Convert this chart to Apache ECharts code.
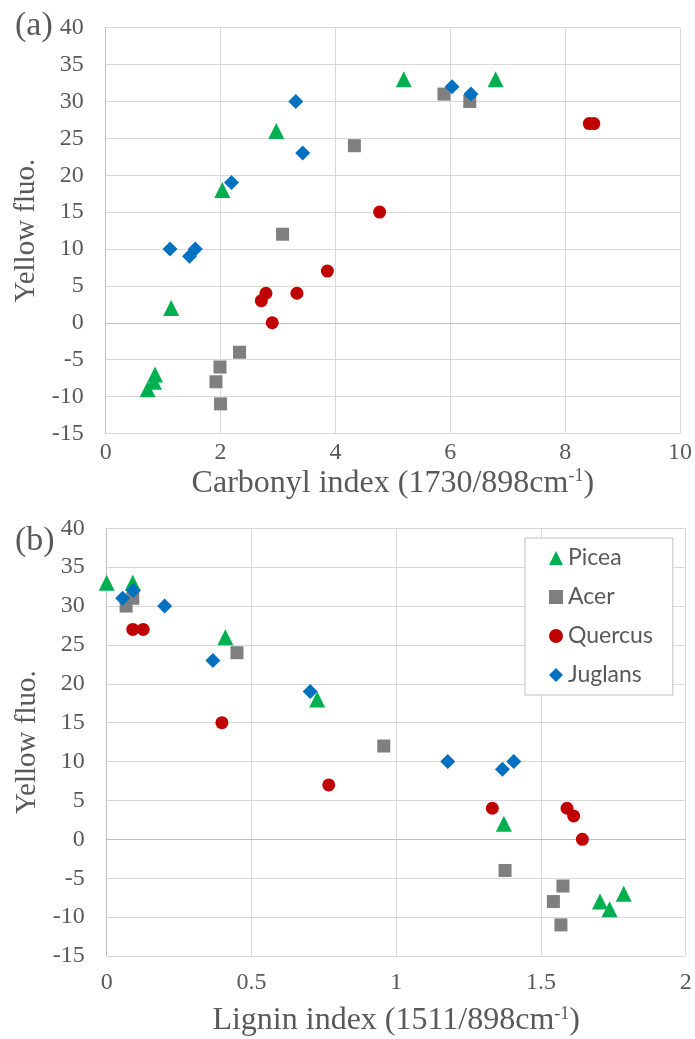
<!DOCTYPE html>
<html>
<head>
<meta charset="utf-8">
<script src="https://cdn.jsdelivr.net/npm/echarts@6/dist/echarts.min.js"></script>
<style>
  html, body { margin: 0; padding: 0; background: #fff; }
  #main { width: 695px; height: 1039px; }
</style>
</head>
<body>
<div id="main"></div>
<script>
// (a) carbonyl index vs yellow fluo.
const piceaCarbonyl = [[0.73, -9], [0.84, -8], [0.86, -7], [1.14, 2], [2.03, 18], [2.97, 26], [5.19, 33], [6.79, 33]];
const acerCarbonyl = [[1.92, -8], [1.99, -6], [2.0, -11], [2.33, -4], [3.08, 12], [4.33, 24], [5.89, 31], [6.34, 30]];
const quercusCarbonyl = [[2.71, 3], [2.79, 4], [2.9, 0], [3.33, 4], [3.86, 7], [4.77, 15], [8.42, 27], [8.5, 27]];
const juglansCarbonyl = [[1.12, 10], [1.46, 9], [1.56, 10], [2.19, 19], [3.31, 30], [3.43, 23], [6.03, 32], [6.36, 31]];

// (b) lignin index vs yellow fluo.
const piceaLignin = [[0, 33], [0.09, 33], [0.41, 26], [0.727, 18], [1.372, 2], [1.704, -8], [1.737, -9], [1.786, -7]];
const acerLignin = [[0.067, 30], [0.09, 31], [0.45, 24], [0.957, 12], [1.376, -4], [1.543, -8], [1.569, -11], [1.576, -6]];
const quercusLignin = [[0.09, 27], [0.126, 27], [0.398, 15], [0.767, 7], [1.332, 4], [1.59, 4], [1.613, 3], [1.643, 0]];
const juglansLignin = [[0.055, 31], [0.092, 32], [0.2, 30], [0.367, 23], [0.703, 19], [1.178, 10], [1.367, 9], [1.406, 10]];

const species = ['Picea', 'Acer', 'Quercus', 'Juglans'];
const carbonylTicks = { min: 0, max: 10, interval: 2 };
const ligninTicks = { min: 0, max: 2, interval: 0.5 };
const fluoTicks = { min: -15, max: 40, interval: 5 };

const serif = '"Liberation Serif", "Times New Roman", serif';
const textGrey = '#595959';

const marks = {
    Picea: { symbol: 'triangle', size: 16, color: '#00B050' },
    Acer: { symbol: 'rect', size: 13, color: '#7F7F7F' },
    Quercus: { symbol: 'circle', size: 13, color: '#C00000' },
    Juglans: { symbol: 'diamond', size: 15, color: '#0070C0' }
};

function xAxisOf(gridIndex, name, ticks, labelMargin, nameGap) {
    return {
        type: 'value',
        gridIndex: gridIndex,
        min: ticks.min,
        max: ticks.max,
        interval: ticks.interval,
        name: name,
        nameLocation: 'middle',
        nameGap: nameGap,
        nameTextStyle: {
            fontFamily: serif,
            fontSize: 32,
            color: textGrey,
            rich: {
                sup: { fontFamily: serif, fontSize: 18, color: textGrey, verticalAlign: 'top', lineHeight: 16 }
            }
        },
        axisLine: { show: true, lineStyle: { color: '#bfbfbf', width: 1 } },
        axisTick: { show: false },
        axisLabel: { fontFamily: serif, fontSize: 24, color: textGrey, margin: labelMargin },
        splitLine: { show: true, lineStyle: { color: '#d9d9d9', width: 1 } }
    };
}

function yAxisOf(gridIndex) {
    return {
        type: 'value',
        gridIndex: gridIndex,
        min: fluoTicks.min,
        max: fluoTicks.max,
        interval: fluoTicks.interval,
        name: 'Yellow fluo.',
        nameLocation: 'middle',
        nameRotate: 90,
        nameGap: 62,
        nameTextStyle: { fontFamily: serif, fontSize: 29, color: textGrey },
        axisLine: { show: true, lineStyle: { color: '#bfbfbf', width: 1 } },
        axisTick: { show: false },
        axisLabel: { fontFamily: serif, fontSize: 24, color: textGrey, margin: 22 },
        splitLine: { show: true, lineStyle: { color: '#d9d9d9', width: 1 } }
    };
}

function scatterOf(name, data, idx) {
    const m = marks[name];
    return {
        name: name,
        type: 'scatter',
        xAxisIndex: idx,
        yAxisIndex: idx,
        data: data,
        symbol: m.symbol,
        symbolSize: m.size,
        itemStyle: { color: m.color, opacity: 1 },
        emphasis: { disabled: true }
    };
}

const chart = echarts.init(document.getElementById('main'));
chart.setOption({
    animation: false,
    backgroundColor: '#fff',
    title: [
        { text: '(a)', left: 10, top: 4, textStyle: { fontFamily: serif, fontSize: 34, fontWeight: 'normal', color: textGrey } },
        { text: '(b)', left: 10, top: 519, textStyle: { fontFamily: serif, fontSize: 34, fontWeight: 'normal', color: textGrey } }
    ],
    legend: {
        orient: 'vertical',
        left: 525,
        top: 538,
        padding: [7, 20, 7, 24],
        itemGap: 13,
        itemWidth: 14,
        itemHeight: 14,
        borderColor: '#bfbfbf',
        borderWidth: 1,
        backgroundColor: '#fff',
        textStyle: { fontFamily: 'Lato, "Open Sans", sans-serif', fontSize: 23, color: textGrey, lineHeight: 26 },
        data: species.map(function (s) {
            return { name: s, icon: marks[s].symbol };
        })
    },
    grid: [
        { left: 105.7, top: 27.7, width: 577.5, height: 405.7 },
        { left: 106.7, top: 528.3, width: 579, height: 427.7 }
    ],
    xAxis: [
        xAxisOf(0, 'Carbonyl index (1730/898cm{sup|-1})', carbonylTicks, 7, 34),
        xAxisOf(1, 'Lignin index (1511/898cm{sup|-1})', ligninTicks, 15, 49)
    ],
    yAxis: [yAxisOf(0), yAxisOf(1)],
    series: [
        scatterOf('Picea', piceaCarbonyl, 0),
        scatterOf('Acer', acerCarbonyl, 0),
        scatterOf('Quercus', quercusCarbonyl, 0),
        scatterOf('Juglans', juglansCarbonyl, 0),
        scatterOf('Picea', piceaLignin, 1),
        scatterOf('Acer', acerLignin, 1),
        scatterOf('Quercus', quercusLignin, 1),
        scatterOf('Juglans', juglansLignin, 1)
    ]
});
</script>
</body>
</html>
